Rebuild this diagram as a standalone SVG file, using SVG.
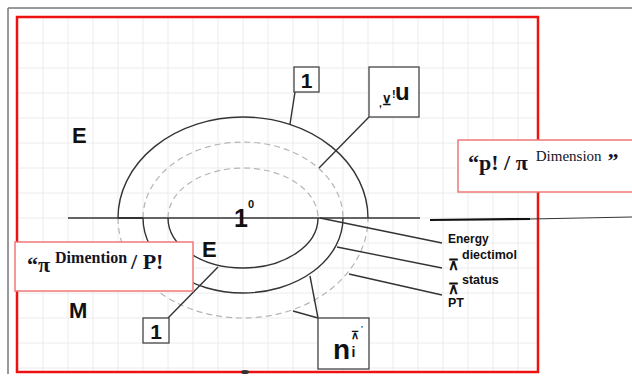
<svg xmlns="http://www.w3.org/2000/svg" width="632" height="378" viewBox="0 0 632 378">
<defs>
<style>
.grid line{stroke:#ececec;stroke-width:1}
.solid{fill:none;stroke:#333;stroke-width:1.4}
.dash{fill:none;stroke:#b5b5b5;stroke-width:1.2;stroke-dasharray:6 4}
.conn line{stroke:#333;stroke-width:1.4}
.box{fill:#fff;stroke:#444;stroke-width:1.3}
.lbl{font-family:"Liberation Sans",Arial,sans-serif;font-weight:bold;fill:#111}
.call{fill:#fff;stroke:#f07878;stroke-width:1.5}
.ser{font-family:"Liberation Serif","Times New Roman",serif;font-weight:bold;fill:#141428}
</style>
</defs>
<rect width="632" height="378" fill="#fff"/>
<g id="frame">
<line x1="8" y1="8" x2="632" y2="8" stroke="#777" stroke-width="1.5"/>
<line x1="8" y1="8" x2="8" y2="374" stroke="#777" stroke-width="1.5"/>
</g>
<g class="grid">
<line x1="43" y1="18" x2="43" y2="372"/><line x1="68" y1="18" x2="68" y2="372"/><line x1="93" y1="18" x2="93" y2="372"/><line x1="118" y1="18" x2="118" y2="372"/><line x1="143" y1="18" x2="143" y2="372"/><line x1="168" y1="18" x2="168" y2="372"/><line x1="193" y1="18" x2="193" y2="372"/><line x1="218" y1="18" x2="218" y2="372"/><line x1="243" y1="18" x2="243" y2="372"/><line x1="268" y1="18" x2="268" y2="372"/><line x1="293" y1="18" x2="293" y2="372"/><line x1="318" y1="18" x2="318" y2="372"/><line x1="343" y1="18" x2="343" y2="372"/><line x1="368" y1="18" x2="368" y2="372"/><line x1="393" y1="18" x2="393" y2="372"/><line x1="418" y1="18" x2="418" y2="372"/><line x1="443" y1="18" x2="443" y2="372"/><line x1="468" y1="18" x2="468" y2="372"/><line x1="493" y1="18" x2="493" y2="372"/><line x1="518" y1="18" x2="518" y2="372"/>
<line x1="18" y1="43" x2="538" y2="43"/><line x1="18" y1="68" x2="538" y2="68"/><line x1="18" y1="93" x2="538" y2="93"/><line x1="18" y1="118" x2="538" y2="118"/><line x1="18" y1="143" x2="538" y2="143"/><line x1="18" y1="168" x2="538" y2="168"/><line x1="18" y1="193" x2="538" y2="193"/><line x1="18" y1="218" x2="538" y2="218"/><line x1="18" y1="243" x2="538" y2="243"/><line x1="18" y1="268" x2="538" y2="268"/><line x1="18" y1="293" x2="538" y2="293"/><line x1="18" y1="318" x2="538" y2="318"/><line x1="18" y1="343" x2="538" y2="343"/><line x1="18" y1="368" x2="538" y2="368"/>
</g>
<rect x="17" y="17" width="521" height="355" fill="none" stroke="#ee1111" stroke-width="2.5"/>
<ellipse cx="245" cy="372" rx="4" ry="2" fill="#333"/>
<g id="rings">
<path class="solid" d="M118 218 A125 101 0 0 1 368 218"/>
<path class="dash" d="M143 218 A100 76 0 0 1 343 218"/>
<path class="dash" d="M168 218 A75 50 0 0 1 318 218"/>
<path class="solid" d="M168 218 A75 50 0 0 0 318 218"/>
<path class="solid" d="M143 218 A100 75 0 0 0 343 218"/>
<path class="dash" d="M118 218 A125 100 0 0 0 368 218"/>
</g>
<g class="conn" id="connectors">
<line x1="68" y1="218" x2="420" y2="218"/>
<line x1="118" y1="218" x2="143" y2="218" style="stroke-width:2"/>
<line x1="430" y1="220" x2="530" y2="219" style="stroke:#111;stroke-width:2.2"/>
<line x1="530" y1="219" x2="632" y2="217" style="stroke-width:1.2"/>
<line x1="295" y1="92" x2="290" y2="124"/>
<line x1="369" y1="117" x2="319" y2="168"/>
<line x1="168" y1="318" x2="218" y2="267"/>
<line x1="310" y1="276" x2="318" y2="318"/>
<line x1="293" y1="311" x2="318" y2="318"/>
<line x1="320" y1="218" x2="442" y2="243"/>
<line x1="337" y1="247" x2="442" y2="268"/>
<line x1="349" y1="274" x2="442" y2="295"/>
</g>
<g id="label-E-top"><text class="lbl" x="72" y="143" font-size="22">E</text></g>
<g id="label-M"><text class="lbl" x="69" y="318" font-size="22">M</text></g>
<g id="label-E-mid"><text class="lbl" x="202" y="257" font-size="22">E</text></g>
<g id="label-center"><text class="lbl" x="234" y="227" font-size="25">1</text><text class="lbl" x="248" y="208" font-size="11">0</text></g>
<g id="box-1-top"><rect class="box" x="294" y="67" width="25" height="25"/><text class="lbl" x="306.5" y="88" font-size="21" text-anchor="middle">1</text></g>
<g id="box-u"><rect class="box" x="369" y="67" width="50" height="50"/><text class="lbl" x="379" y="107" font-size="10">,</text><text class="lbl" x="382" y="105" font-size="13">⊻</text><text class="lbl" x="392" y="98" font-size="11">!</text><text class="lbl" x="395" y="100" font-size="24">u</text></g>
<g id="box-1-bottom"><rect class="box" x="143" y="318" width="26" height="25"/><text class="lbl" x="156" y="339" font-size="21" text-anchor="middle">1</text></g>
<g id="box-n"><rect class="box" x="318" y="318" width="51" height="51"/><text class="lbl" x="333" y="359" font-size="28">n</text><text class="lbl" x="351.5" y="357" font-size="14">i</text><text class="lbl" x="351" y="339" font-size="11">⊼</text><text class="lbl" x="361" y="331" font-size="8">'</text></g>
<g id="labels-right">
<text class="lbl" x="448" y="243" font-size="12">Energy</text>
<text class="lbl" x="448" y="270" font-size="15">⊼</text><text class="lbl" x="462" y="259" font-size="12.5">diectimol</text>
<text class="lbl" x="448" y="294" font-size="15">⊼</text><text class="lbl" x="462" y="284" font-size="12.5">status</text>
<text class="lbl" x="448" y="307" font-size="12.5">PT</text>
</g>
<g id="callout-right"><rect class="call" x="458" y="140" width="182" height="52"/><text class="ser" x="468" y="170" font-size="22">“p! / π<tspan font-size="15" font-weight="normal" dx="8" dy="-9">Dimension</tspan><tspan font-size="22" dx="6" dy="7">”</tspan></text></g>
<g id="callout-left"><rect class="call" x="15" y="242" width="178" height="49"/><text class="ser" x="27" y="272" font-size="22">“π<tspan font-size="16" dx="5" dy="-9">Dimention</tspan><tspan font-size="22" dx="4" dy="6">/ P!</tspan></text></g>
</svg>
